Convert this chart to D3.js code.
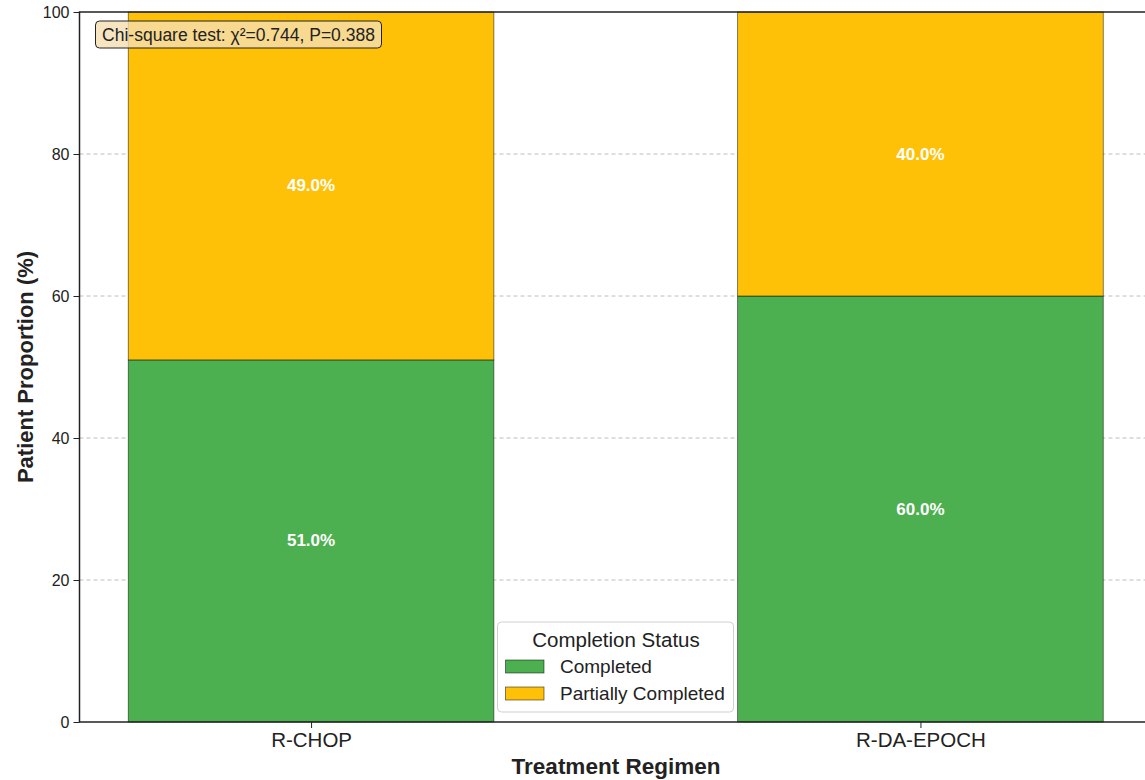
<!DOCTYPE html>
<html><head><meta charset="utf-8">
<script src="https://cdn.jsdelivr.net/npm/d3@7"></script>
<style>body{margin:0;background:#fff;} svg{display:block;font-family:"Liberation Sans",Arial,sans-serif;}</style>
</head><body>
<svg id="c" width="1145" height="780"></svg>
<script>
const categories = ["R-CHOP", "R-DA-EPOCH"];
const completed = [51.0, 60.0];
const partial = [49.0, 40.0];
const seriesNames = ["Completed", "Partially Completed"];
const seriesColors = ["#4CAF50", "#FFC107"];
const yTicks = [0, 20, 40, 60, 80, 100];
const annotation = "Chi-square test: χ²=0.744, P=0.388";

(function () {
const svg = d3.select("#c");
const pL = 79.5, pR = 1152, pT = 12, pB = 722;
const x = d3.scalePoint().domain(categories).range([pL, pR]).padding(0.38);
const bw = x.step() * 0.6;
const y = d3.scaleLinear().domain([0, 100]).range([pB, pT]);

// grid
svg.append("g").selectAll("line").data(yTicks.filter(d => d > 0 && d < 100)).join("line")
  .attr("x1", pL).attr("x2", pR).attr("y1", d => y(d)).attr("y2", d => y(d))
  .attr("stroke", "#b0b0b0").attr("stroke-width", 1).attr("stroke-dasharray", "4,3").attr("opacity", 0.8);

const stacks = categories.map((c, i) => [
  {c, s: 0, y0: 0, y1: completed[i], v: completed[i]},
  {c, s: 1, y0: completed[i], y1: completed[i] + partial[i], v: partial[i]}
]).flat();

svg.append("g").selectAll("rect").data(stacks).join("rect")
  .attr("x", d => x(d.c) - bw / 2).attr("width", bw)
  .attr("y", d => y(d.y1)).attr("height", d => y(d.y0) - y(d.y1))
  .attr("fill", d => seriesColors[d.s]).attr("stroke", "#000").attr("stroke-opacity", 0.6).attr("stroke-width", 0.8);

svg.append("g").selectAll("text").data(stacks).join("text")
  .attr("x", d => x(d.c)).attr("y", d => y((d.y0 + d.y1) / 2))
  .attr("text-anchor", "middle").attr("dominant-baseline", "central")
  .attr("fill", "#fff").attr("font-weight", "bold").attr("font-size", 17)
  .text(d => d.v.toFixed(1) + "%");

// axes
const yAxis = svg.append("g").attr("transform", `translate(${pL},0)`)
  .call(d3.axisLeft(y).tickValues(yTicks).tickSize(6).tickPadding(4));
yAxis.select(".domain").remove();
yAxis.selectAll("text").attr("font-size", 16).attr("fill", "#222").style("font-family", "Liberation Sans, Arial, sans-serif");
yAxis.selectAll("line").attr("stroke", "#222");

const xAxis = svg.append("g").attr("transform", `translate(0,${pB})`)
  .call(d3.axisBottom(x).tickSize(6).tickPadding(4));
xAxis.select(".domain").remove();
xAxis.selectAll("text").attr("font-size", 20.5).attr("fill", "#222").style("font-family", "Liberation Sans, Arial, sans-serif");
xAxis.selectAll("line").attr("stroke", "#222");

// spines
svg.append("rect").attr("x", pL).attr("y", pT).attr("width", pR - pL).attr("height", pB - pT)
  .attr("fill", "none").attr("stroke", "#222").attr("stroke-width", 1.5);

// axis titles
svg.append("text").attr("x", 616).attr("y", 774).attr("text-anchor", "middle")
  .attr("font-weight", "bold").attr("font-size", 22.5).attr("fill", "#222").text("Treatment Regimen");
svg.append("text").attr("transform", `translate(33,${(pT + pB) / 2}) rotate(-90)`)
  .attr("text-anchor", "middle").attr("font-weight", "bold").attr("font-size", 22).attr("fill", "#222")
  .text("Patient Proportion (%)");

// annotation box
const ann = svg.append("g");
ann.append("rect").attr("x", 95.5).attr("y", 21).attr("width", 286).attr("height", 27).attr("rx", 4)
  .attr("fill", "#f5deb3").attr("fill-opacity", 0.8).attr("stroke", "#222").attr("stroke-width", 1);
ann.append("text").attr("x", 238.5).attr("y", 34.5).attr("text-anchor", "middle").attr("dominant-baseline", "central")
  .attr("font-size", 17.5).attr("fill", "#222").text(annotation);

// legend
const lg = svg.append("g");
lg.append("rect").attr("x", 497.5).attr("y", 622).attr("width", 236).attr("height", 90).attr("rx", 4)
  .attr("fill", "#fff").attr("fill-opacity", 0.85).attr("stroke", "#d0d0d0");
lg.append("text").attr("x", 616).attr("y", 639).attr("text-anchor", "middle").attr("dominant-baseline", "central")
  .attr("font-size", 20.5).attr("fill", "#222").text("Completion Status");
seriesNames.forEach((n, i) => {
  const yy = 666.5 + i * 27;
  lg.append("rect").attr("x", 505.5).attr("y", yy - 6.5).attr("width", 38.5).attr("height", 13)
    .attr("fill", seriesColors[i]).attr("stroke", "#000").attr("stroke-opacity", 0.6).attr("stroke-width", 0.8);
  lg.append("text").attr("x", 560).attr("y", yy).attr("dominant-baseline", "central")
    .attr("font-size", 19).attr("fill", "#222").text(n);
});
})();
</script>
</body></html>
